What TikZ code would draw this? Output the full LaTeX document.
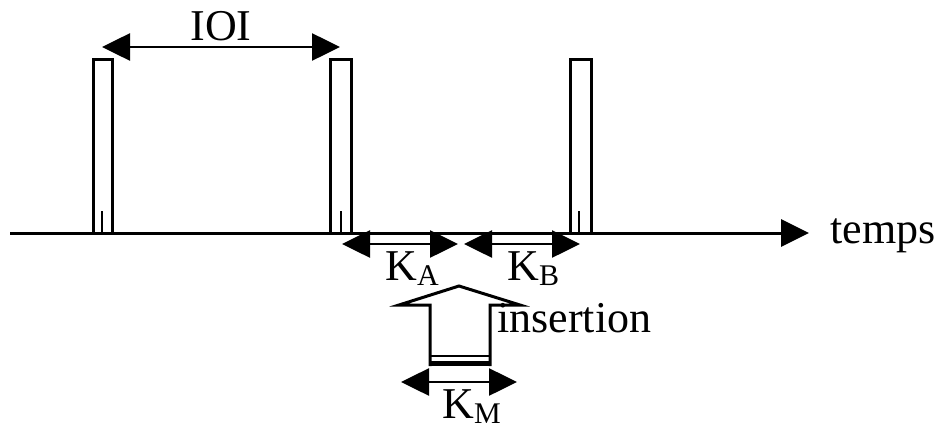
\documentclass[tikz,border=0pt]{standalone}
\usepackage{fontspec}
\setmainfont{Liberation Serif}
\usetikzlibrary{arrows.meta}
\tikzset{
  lbl/.style={inner sep=0pt, font=\fontsize{22}{26}\selectfont},
  bar/.style={draw, line width=1.5pt, fill=white},
  dim/.style={line width=1.3pt, {Triangle[length=14pt,width=13.5pt]}-{Triangle[length=14pt,width=13.5pt]}},
  axis/.style={line width=1.5pt, -{Triangle[length=14pt,width=13.5pt]}}
}
\newcommand{\sbs}[1]{\raisebox{-2.6pt}{\fontsize{15}{15}\selectfont #1}}
\begin{document}
\begin{tikzpicture}[x=0.5pt,y=-0.5pt]
\useasboundingbox (0,0) rectangle (942,428);
% axis
\coordinate (ax0) at (10,233);
\coordinate (ax1) at (809,233);
\draw[axis] (ax0) -- (ax1);
\node[lbl, anchor=base west] (temps) at (830,243) {temps};
% bars
\foreach \n/\xa/\xb/\xt in {b1/93/112/102, b2/330/351/341, b3/570/591/579}{
  \draw[bar] (\xa,233) rectangle (\xb,59);
  \coordinate (\n t0) at (\xt,233);
  \coordinate (\n t1) at (\xt,211);
  \draw[line width=1.3pt] (\n t0) -- (\n t1);
}
% IOI
\coordinate (ioiL) at (102,47);
\coordinate (ioiR) at (340,47);
\draw[dim] (ioiL) -- (ioiR);
\node[lbl, anchor=base] (ioi) at (221,40) {IOI};
% KA, KB
\coordinate (kaL) at (342,244);
\coordinate (kaR) at (458,244);
\coordinate (kbL) at (464,244);
\coordinate (kbR) at (580,244);
\draw[dim] (kaL) -- (kaR);
\draw[dim] (kbL) -- (kbR);
\node[lbl, anchor=base west] (ka) at (385,280) {K\sbs{A}};
\node[lbl, anchor=base west] (kb) at (507,280) {K\sbs{B}};
% insertion arrow
\draw[line width=1.5pt, line join=miter] (430,366) -- (430,305) -- (399,305) -- (459,286) -- (520,305) -- (490,305) -- (490,366);
\coordinate (thinL) at (430,356);
\coordinate (thinR) at (490,356);
\draw[line width=1.3pt] (thinL) -- (thinR);
\coordinate (thkL) at (429.3,363.5);
\coordinate (thkR) at (490.7,363.5);
\draw[line width=2.6pt] (thkL) -- (thkR);
\node[lbl, anchor=base west] (ins) at (497,332) {insertion};
% KM
\coordinate (kmL) at (401,382);
\coordinate (kmR) at (517,382);
\draw[dim] (kmL) -- (kmR);
\node[lbl, anchor=base west] (km) at (442,418) {K\sbs{M}};
\end{tikzpicture}
\end{document}
